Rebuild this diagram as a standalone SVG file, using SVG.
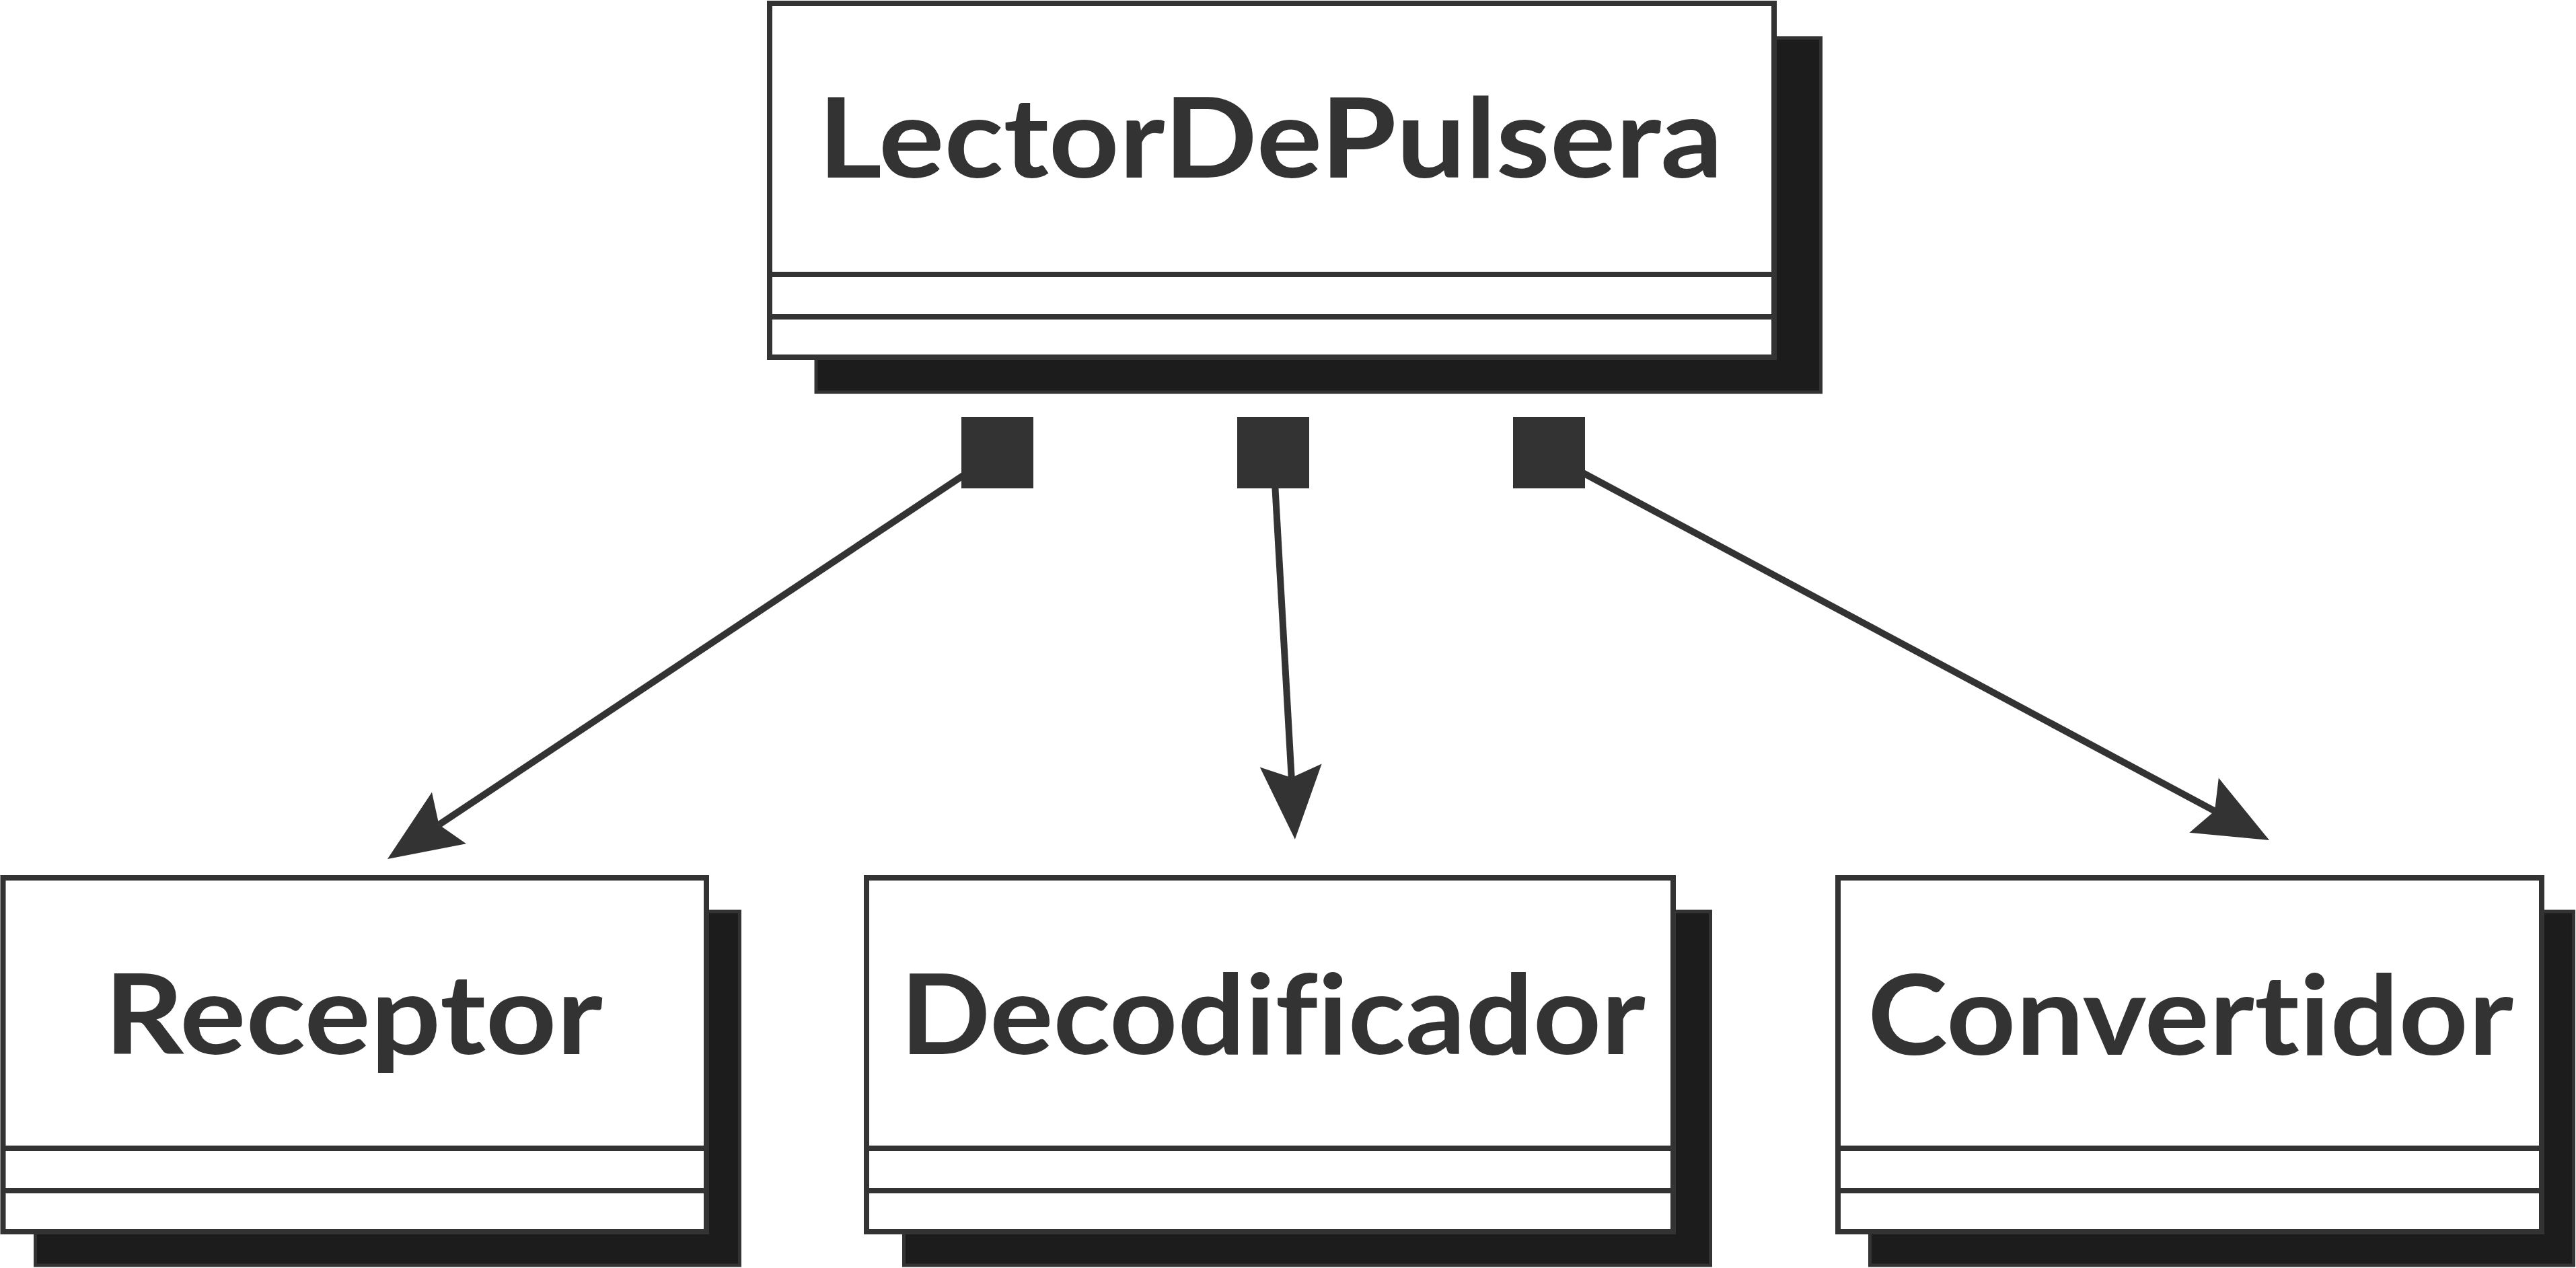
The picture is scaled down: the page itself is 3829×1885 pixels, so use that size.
<svg xmlns="http://www.w3.org/2000/svg" width="3829" height="1885" viewBox="0 0 3829 1885">
<style>
.shadow{fill:#1c1c1c;stroke:#333333;stroke-width:5}
.box{fill:#ffffff;stroke:#333333;stroke-width:8}
.div{stroke:#333333;stroke-width:8}
.title{font-family:Lato,"Liberation Sans",sans-serif;font-weight:bold;font-size:165px;fill:#333333;font-variant-ligatures:none;font-feature-settings:"liga" 0}
.edge{stroke:#333333;stroke-width:10;fill:none}
.sq{fill:#333333}
</style>
<defs>
<marker id="arrow" markerUnits="userSpaceOnUse" markerWidth="115" markerHeight="100" viewBox="-20 -50 115 100" refX="0" refY="0" orient="auto">
<path d="M92,0 L-18,-46 L0,0 L-18,46 Z" fill="#333333"/>
</marker>
</defs>
<rect width="3829" height="1885" fill="#ffffff"/>
<g id="LectorDePulsera">
<rect class="shadow" x="1213" y="56.5" width="1493.5" height="526.5"/>
<rect class="box" x="1144" y="5" width="1493" height="526"/>
<line class="div" x1="1144" y1="408" x2="2637" y2="408"/>
<line class="div" x1="1144" y1="471" x2="2637" y2="471"/>
<text class="title" x="1216" y="264" textLength="1345" lengthAdjust="spacingAndGlyphs">LectorDePulsera</text>
</g>
<g id="Receptor">
<rect class="shadow" x="52.5" y="1355" width="1047" height="526"/>
<rect class="box" x="4.5" y="1305" width="1045.5" height="526"/>
<line class="div" x1="4.5" y1="1707" x2="1050" y2="1707"/>
<line class="div" x1="4.5" y1="1770" x2="1050" y2="1770"/>
<text class="title" x="155" y="1567" textLength="741" lengthAdjust="spacingAndGlyphs">Receptor</text>
</g>
<g id="Decodificador">
<rect class="shadow" x="1343.5" y="1355" width="1199" height="526"/>
<rect class="box" x="1288" y="1305" width="1199" height="526"/>
<line class="div" x1="1288" y1="1707" x2="2487" y2="1707"/>
<line class="div" x1="1288" y1="1770" x2="2487" y2="1770"/>
<text class="title" x="1338" y="1567" textLength="1108" lengthAdjust="spacingAndGlyphs">Decodificador</text>
</g>
<g id="Convertidor">
<rect class="shadow" x="2779.5" y="1355" width="1046" height="526"/>
<rect class="box" x="2732" y="1305" width="1046" height="526"/>
<line class="div" x1="2732" y1="1707" x2="3778" y2="1707"/>
<line class="div" x1="2732" y1="1770" x2="3778" y2="1770"/>
<text class="title" x="2776" y="1568" textLength="960" lengthAdjust="spacingAndGlyphs">Convertidor</text>
</g>
<g id="connectors">
<line class="edge" x1="1482.5" y1="673" x2="652.5" y2="1226" marker-end="url(#arrow)"/>
<line class="edge" x1="1892.5" y1="673" x2="1919.7" y2="1156" marker-end="url(#arrow)"/>
<line class="edge" x1="2302.5" y1="676" x2="3292" y2="1205.6" marker-end="url(#arrow)"/>
<rect class="sq" x="1429" y="620" width="107" height="106"/>
<rect class="sq" x="1839" y="620" width="107" height="106"/>
<rect class="sq" x="2249" y="620" width="107" height="106"/>
</g>
</svg>
